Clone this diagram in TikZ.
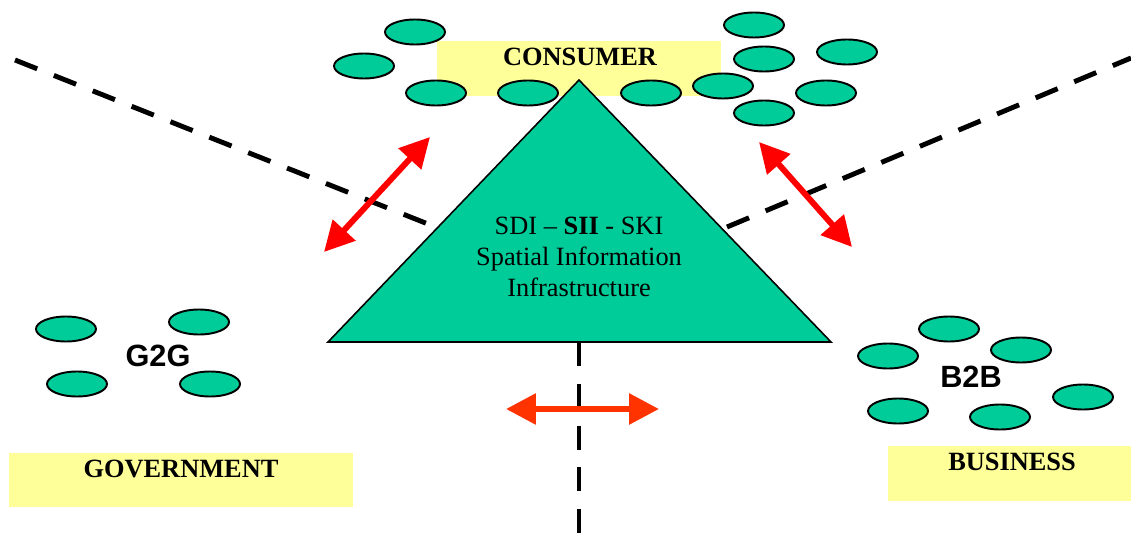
\documentclass[tikz,border=0pt]{standalone}
\usepackage{fontspec}
\setmainfont{Liberation Serif}
\newfontfamily\sansbold{Liberation Sans}
\usetikzlibrary{shapes.geometric,arrows.meta}
\definecolor{seagreen}{HTML}{00CC99}
\definecolor{paleyellow}{HTML}{FFFF99}
\definecolor{arrowred}{HTML}{FF0000}
\definecolor{arroworange}{HTML}{FF3300}

\begin{document}
\begin{tikzpicture}[x=0.02cm,y=-0.02cm,
    actor/.style={ellipse,draw=black,line width=1.1pt,fill=seagreen,
      minimum width=1.2cm,minimum height=0.5cm,inner sep=0pt},
    zone/.style={fill=paleyellow,inner sep=0pt},
    zonelabel/.style={font=\fontsize{15}{17}\selectfont\bfseries,inner sep=0pt},
    pairlabel/.style={font=\sansbold\fontsize{17.5}{20}\selectfont\bfseries,inner sep=0pt},
    border/.style={line width=2.8pt,dash pattern=on 13.6pt off 10.2pt},
    flow/.style={line width=3.4pt,
      {Triangle[length=17pt,width=17pt]}-{Triangle[length=17pt,width=17pt]}}]
        \useasboundingbox (0,0) rectangle (1131,533);
        \node [zone,minimum width=5.68cm,minimum height=1.1cm] (conbox) at (579,68.5) {};
        \node [zone,minimum width=6.88cm,minimum height=1.08cm] (govbox) at (181,480) {};
        \node [zone,minimum width=4.86cm,minimum height=1.1cm] (busbox) at (1009.5,473.5) {};
        \node [zonelabel] (context) at (580,57) {CONSUMER};
        \node [zonelabel] (govtext) at (181,469) {GOVERNMENT};
        \node [zonelabel] (bustext) at (1012,462) {BUSINESS};
        \coordinate (apex) at (579,80);
        \coordinate (baseleft) at (328,342);
        \coordinate (baseright) at (831,342);
        \coordinate (basemid) at (579,342);
        \coordinate (lineleft) at (15,60);
        \coordinate (edgeleft) at (433,226);
        \coordinate (lineright) at (1131,58);
        \coordinate (edgeright) at (727,227);
        \coordinate (linebottom) at (579,533);
        \draw [border] (lineleft) -- (edgeleft);
        \draw [border] (edgeright) -- (lineright);
        \draw [border] (basemid) -- (linebottom);
        \node [actor] (c1) at (415,32) {};
        \node [actor] (c2) at (364,66) {};
        \node [actor] (c3) at (436,93) {};
        \node [actor] (c4) at (528,93) {};
        \node [actor] (c5) at (651,93) {};
        \node [actor] (c6) at (754,25) {};
        \node [actor] (c7) at (764,59) {};
        \node [actor] (c8) at (847,52) {};
        \node [actor] (c9) at (723,86) {};
        \node [actor] (c10) at (826,93) {};
        \node [actor] (c11) at (764,113) {};
        \node [actor] (g1) at (66,329) {};
        \node [actor] (g2) at (199,322) {};
        \node [actor] (g3) at (77,384) {};
        \node [actor] (g4) at (210,384) {};
        \node [pairlabel] (g2g) at (158,356) {G2G};
        \node [actor] (b1) at (949,329) {};
        \node [actor] (b2) at (888,356) {};
        \node [actor] (b3) at (1021,350) {};
        \node [actor] (b4) at (898,411) {};
        \node [actor] (b5) at (1000,417) {};
        \node [actor] (b6) at (1083,397) {};
        \node [pairlabel] (b2b) at (971,377) {B2B};
        \filldraw [fill=seagreen,draw=black,line width=0.9pt] (apex) -- (baseleft) -- (baseright) -- cycle;
        \node [align=center,inner sep=0pt,font=\fontsize{15}{17.6}\selectfont] (sii) at (579,257)
          {SDI -- \textbf{SII} - SKI\\Spatial Information\\Infrastructure};
        \coordinate (govend) at (324,252);
        \coordinate (conleft) at (430,137);
        \coordinate (conright) at (759,142);
        \coordinate (busend) at (852,247);
        \coordinate (g2bleft) at (506,409);
        \coordinate (g2bright) at (659,409);
        \draw [flow,arrowred] (govend) -- (conleft);
        \draw [flow,arrowred] (conright) -- (busend);
        \draw [flow,arroworange] (g2bleft) -- (g2bright);
\end{tikzpicture}
\end{document}
